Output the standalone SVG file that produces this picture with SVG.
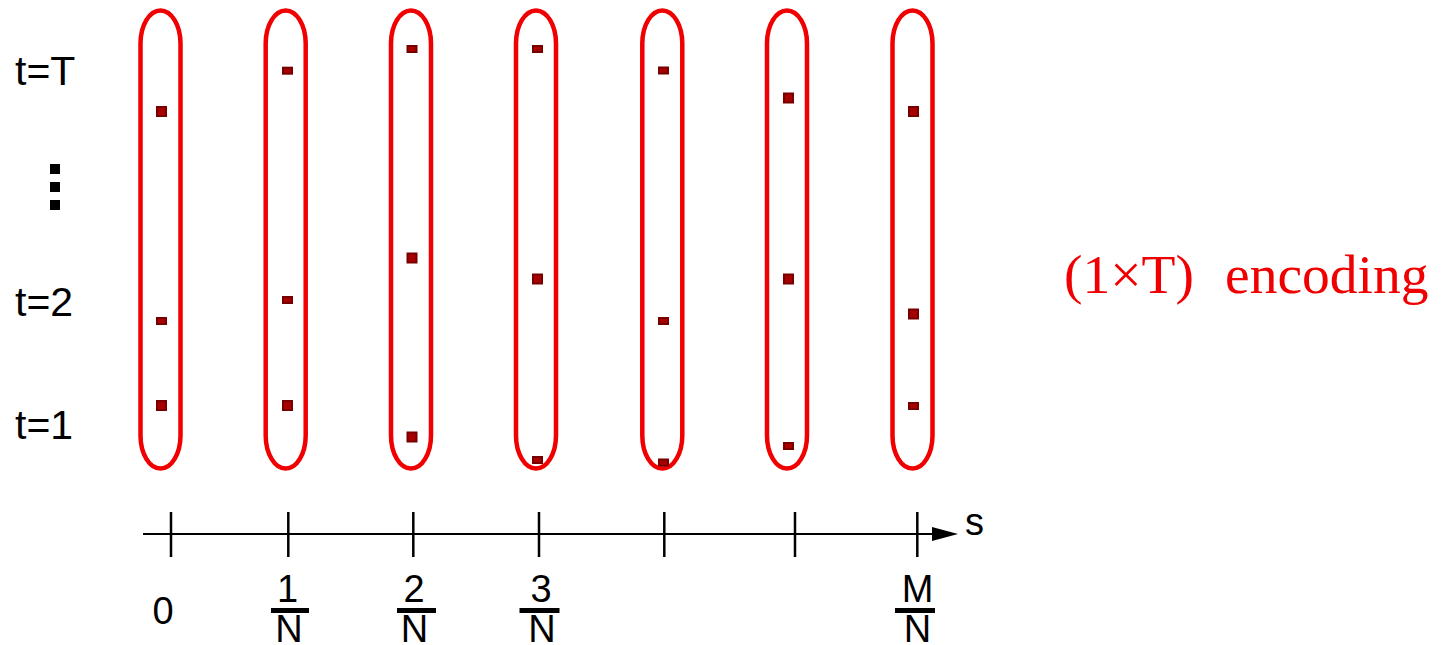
<svg xmlns="http://www.w3.org/2000/svg" width="1445" height="645" viewBox="0 0 1445 645">
  <style>
    .cap { fill: none; stroke: #f00000; stroke-width: 4.5; }
    .dot { fill: #a80000; stroke: #760000; stroke-width: 2; }
    .lbl { font-family: "Liberation Sans", Arial, sans-serif; font-size: 41px; fill: #000; }
    .ax { font-family: "Liberation Sans", Arial, sans-serif; font-size: 38px; fill: #000; text-anchor: middle; }
    .axis { stroke: #000; stroke-width: 2; fill: none; }
    .tick { stroke: #000; stroke-width: 2.5; }
    .enc { font-family: "Liberation Serif", "Times New Roman", serif; font-size: 55.5px; fill: #f00000; }
  </style>
  <rect width="1445" height="645" fill="#fff"/>

  <g id="labels-t">
    <text class="lbl" x="15" y="85">t=T</text>
    <text class="lbl" x="15" y="316">t=2</text>
    <text class="lbl" x="15" y="439">t=1</text>
    <rect x="50" y="164" width="10" height="10" fill="#000"/>
    <rect x="50" y="182" width="10" height="10" fill="#000"/>
    <rect x="50" y="200" width="10" height="10" fill="#000"/>
  </g>

  <g id="cap1">
    <rect class="cap" x="140.5" y="10.5" width="40" height="458" rx="20" ry="33"/>
    <rect class="dot" x="157" y="107" width="9" height="9"/>
    <rect class="dot" x="157" y="318" width="9" height="6"/>
    <rect class="dot" x="157" y="401" width="9" height="9"/>
  </g>
  <g id="cap2">
    <rect class="cap" x="265.7" y="10.5" width="40" height="458" rx="20" ry="33"/>
    <rect class="dot" x="283" y="67.7" width="9" height="6"/>
    <rect class="dot" x="283" y="297" width="9" height="6"/>
    <rect class="dot" x="283" y="401" width="9" height="9"/>
  </g>
  <g id="cap3">
    <rect class="cap" x="391" y="10.5" width="40" height="458" rx="20" ry="33"/>
    <rect class="dot" x="407.5" y="46" width="9" height="6"/>
    <rect class="dot" x="407.5" y="253.5" width="9" height="9"/>
    <rect class="dot" x="407.5" y="432.5" width="9" height="9"/>
  </g>
  <g id="cap4">
    <rect class="cap" x="516" y="10.5" width="40" height="458" rx="20" ry="33"/>
    <rect class="dot" x="533" y="46" width="9" height="6"/>
    <rect class="dot" x="533" y="274.5" width="9" height="9"/>
    <rect class="dot" x="533" y="457" width="9" height="6"/>
  </g>
  <g id="cap5">
    <rect class="cap" x="642.3" y="10.5" width="40" height="458" rx="20" ry="33"/>
    <rect class="dot" x="659" y="67.5" width="9" height="6"/>
    <rect class="dot" x="659" y="318" width="9" height="6"/>
    <rect class="dot" x="659" y="459.5" width="9" height="6"/>
  </g>
  <g id="cap6">
    <rect class="cap" x="767" y="10.5" width="40" height="458" rx="20" ry="33"/>
    <rect class="dot" x="784" y="93.5" width="9" height="9"/>
    <rect class="dot" x="784" y="274.5" width="9" height="9"/>
    <rect class="dot" x="784" y="443" width="9" height="6"/>
  </g>
  <g id="cap7">
    <rect class="cap" x="892.5" y="10.5" width="40" height="458" rx="20" ry="33"/>
    <rect class="dot" x="909" y="107" width="9" height="9"/>
    <rect class="dot" x="909" y="309.5" width="9" height="9"/>
    <rect class="dot" x="909" y="403" width="9" height="6"/>
  </g>

  <g id="connectors">
    <line class="axis" x1="143" y1="534" x2="934" y2="534"/>
    <polygon points="932,527 958,534 932,541" fill="#000"/>
    <line class="tick" x1="171" y1="512" x2="171" y2="557"/>
    <line class="tick" x1="288.3" y1="512" x2="288.3" y2="557"/>
    <line class="tick" x1="413.3" y1="512" x2="413.3" y2="557"/>
    <line class="tick" x1="539" y1="512" x2="539" y2="557"/>
    <line class="tick" x1="664.3" y1="512" x2="664.3" y2="557"/>
    <line class="tick" x1="795" y1="512" x2="795" y2="557"/>
    <line class="tick" x1="917.3" y1="512" x2="917.3" y2="557"/>
  </g>

  <g id="axis-labels">
    <text class="lbl" x="965" y="535" style="font-size:38px">s</text>
    <text class="ax" x="163" y="624">0</text>
    <text class="ax" x="287.5" y="602">1</text>
    <rect x="271" y="608" width="38" height="5" fill="#000"/>
    <text class="ax" x="289" y="642">N</text>
    <text class="ax" x="414" y="602">2</text>
    <rect x="397" y="608" width="39" height="5" fill="#000"/>
    <text class="ax" x="414.5" y="642">N</text>
    <text class="ax" x="541" y="602">3</text>
    <rect x="519.5" y="608" width="40" height="5" fill="#000"/>
    <text class="ax" x="542" y="642">N</text>
    <text class="ax" x="917.7" y="602">M</text>
    <rect x="895" y="608" width="40" height="5" fill="#000"/>
    <text class="ax" x="917.5" y="642">N</text>
  </g>

  <g id="encoding-label">
    <text class="enc" x="1064" y="293">(1×T)</text>
    <text class="enc" x="1225" y="293">encoding</text>
  </g>
</svg>
